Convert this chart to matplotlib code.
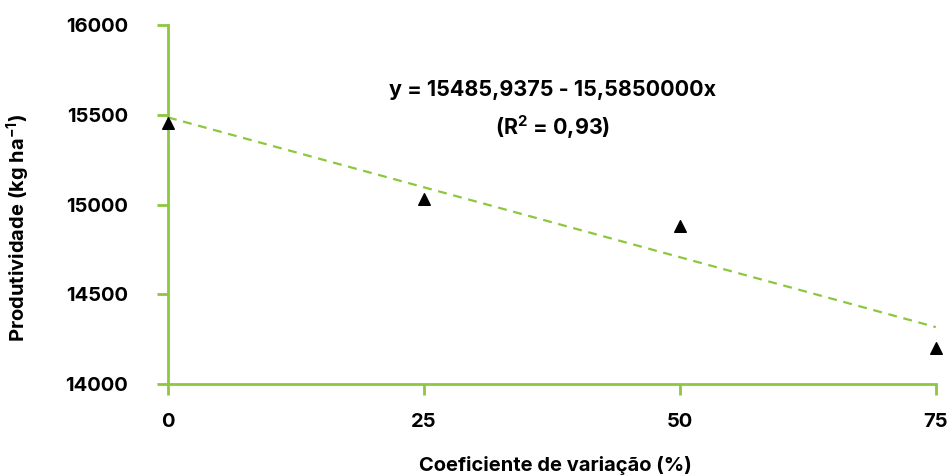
import matplotlib
matplotlib.use('Agg')
import matplotlib.pyplot as plt
import numpy as np

# data
cv = [0, 25, 50, 75]
produtividade = [15455, 15030, 14880, 14200]
intercept = 15485.9375
slope = -15.585
r2 = 0.93

green = '#8dc63f'

plt.rcParams['font.family'] = ['Inter', 'DejaVu Sans']
plt.rcParams['font.weight'] = 'bold'
plt.rcParams['mathtext.default'] = 'regular'

fig = plt.figure(figsize=(9.52, 4.75), dpi=100)
ax = fig.add_axes([0.1765, 0.1916, 0.8065, 0.7554])

# trend line from the fitted equation
xl = np.array([0, 75])
ax.plot(xl, intercept + slope * xl, linestyle=(0, (4, 3)), color=green, linewidth=1.6, zorder=2)
ax.scatter(cv, produtividade, marker='^', s=70, color='black', zorder=3, clip_on=False)

ax.set_xlim(0, 75)
ax.set_ylim(14000, 16000)
ax.set_xticks([0, 25, 50, 75])
ax.set_yticks([14000, 14500, 15000, 15500, 16000])

for s in ['top', 'right']:
    ax.spines[s].set_visible(False)
for s in ['left', 'bottom']:
    ax.spines[s].set_color(green)
    ax.spines[s].set_linewidth(2)
    ax.spines[s].set_clip_on(False)

ax.tick_params(axis='both', colors=green, length=8, width=2, labelcolor='black', labelsize=14.5)
ax.tick_params(axis='y', pad=21)
ax.tick_params(axis='x', pad=13)
for lab in ax.get_xticklabels() + ax.get_yticklabels():
    lab.set_fontweight('bold')

ax.set_xlabel('Coeficiente de variação (%)', fontsize=14.5, fontweight='bold')
ax.set_ylabel('Produtividade (kg ha$^{-1}$)', fontsize=14.5, fontweight='bold')
ax.xaxis.set_label_coords(0.504, -0.2)
ax.yaxis.set_label_coords(-0.177, 0.435)

eq = 'y = {:.4f} - {:.7f}x'.format(intercept, abs(slope)).replace('.', ',')
ax.text(37.6, 15525, eq + '\n(R$^{2}$ = ' + '{:.2f}'.format(r2).replace('.', ',') + ')',
        ha='center', va='center', fontsize=15.5, fontweight='bold', linespacing=1.6)

fig.savefig('out.png', dpi=100)
